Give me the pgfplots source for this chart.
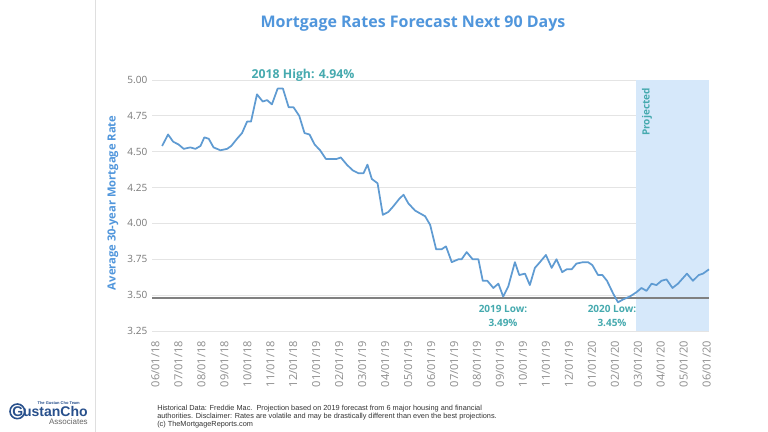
\documentclass[border=0pt]{standalone}
\usepackage{pgfplots}
\pgfplotsset{compat=1.18}
\usepackage{fontspec}
\setmainfont{Open Sans}
\newfontfamily\arialf{Liberation Sans}
\definecolor{titleblue}{RGB}{80,150,220}
\definecolor{lineblue}{RGB}{95,155,210}
\definecolor{shade}{RGB}{214,232,250}
\definecolor{teal}{RGB}{70,170,175}
\definecolor{tickgray}{RGB}{120,120,120}
\definecolor{xtickgray}{RGB}{140,140,140}
\definecolor{gridgray}{RGB}{228,228,228}
\definecolor{navy}{RGB}{40,80,140}
\begin{document}
\begin{tikzpicture}
\useasboundingbox (0,0) rectangle (576pt,324pt);
\fill[white] (0,0) rectangle (576pt,324pt);
\draw[gray!25, line width=0.6pt] (71.25pt,0) -- (71.25pt,324pt);
\begin{axis}[
  at={(114pt,75.75pt)}, anchor=south west,
  scale only axis, width=417.75pt, height=188.25pt,
  xmin=-0.15, xmax=24.1, ymin=3.25, ymax=5.0,
  axis line style={draw=none},
  major tick length=0pt,
  ytick={3.25,3.5,3.75,4,4.25,4.5,4.75,5},
  /pgf/number format/fixed, /pgf/number format/fixed zerofill, /pgf/number format/precision=2,
  /pgf/number format/assume math mode=true,
  yticklabel style={font=\fontsize{7.5}{9}\selectfont, text=tickgray},
  ymajorgrids, grid style={gridgray, line width=0.6pt},
  xtick={0,1,...,24},
  xticklabels={06/01/18,07/01/18,08/01/18,09/01/18,10/01/18,11/01/18,12/01/18,01/01/19,02/01/19,03/01/19,04/01/19,05/01/19,06/01/19,07/01/19,08/01/19,09/01/19,10/01/19,11/01/19,12/01/19,01/01/20,02/01/20,03/01/20,04/01/20,05/01/20,06/01/20},
  xticklabel shift=4pt,
  xticklabel style={rotate=90, anchor=east, font=\fontsize{8.3}{9}\selectfont, text=xtickgray},
  ylabel={\bfseries Average 30-year Mortgage Rate},
  ylabel style={font=\fontsize{8.4}{10}\selectfont, text=titleblue, xshift=2pt},
  clip=false,
]
\addplot[draw=none, fill=shade] coordinates {(20.9,3.25) (24.1,3.25) (24.1,5.0) (20.9,5.0)} -- cycle;
\addplot[draw=black!50, line width=1pt] coordinates {(-0.15,3.48) (24.1,3.48)};
\addplot[lineblue, line width=1.3pt, line join=round] coordinates {
(0.29,4.54) (0.55,4.62) (0.77,4.57) (1.01,4.55) (1.23,4.52) (1.52,4.53) (1.74,4.52) (1.96,4.54)
(2.13,4.60) (2.32,4.59) (2.53,4.53) (2.83,4.51) (3.12,4.52) (3.30,4.54) (3.55,4.59) (3.77,4.63)
(3.99,4.71) (4.16,4.71) (4.42,4.90) (4.67,4.85) (4.86,4.86) (5.07,4.83) (5.32,4.94) (5.55,4.94)
(5.80,4.81) (6.01,4.81) (6.26,4.75) (6.49,4.63) (6.71,4.62) (6.93,4.55) (7.17,4.51) (7.42,4.45)
(7.90,4.45) (8.07,4.46) (8.33,4.41) (8.59,4.37) (8.84,4.35) (9.06,4.35) (9.23,4.41) (9.42,4.31)
(9.67,4.28) (9.90,4.06) (10.14,4.08) (10.36,4.12) (10.61,4.17) (10.80,4.20) (11.01,4.14) (11.30,4.09)
(11.52,4.07) (11.74,4.05) (11.96,3.99) (12.22,3.82) (12.46,3.82) (12.65,3.84) (12.90,3.73) (13.19,3.75)
(13.33,3.75) (13.55,3.80) (13.81,3.75) (14.06,3.75) (14.25,3.60) (14.45,3.60) (14.71,3.55) (14.93,3.58)
(15.14,3.49) (15.36,3.56) (15.65,3.73) (15.84,3.64) (16.09,3.65) (16.30,3.57) (16.52,3.69) (16.74,3.73)
(17.00,3.78) (17.25,3.69) (17.46,3.75) (17.71,3.66) (17.90,3.68) (18.12,3.68) (18.33,3.72) (18.62,3.73)
(18.83,3.73) (19.02,3.71) (19.27,3.64) (19.46,3.64) (19.66,3.60) (19.93,3.51) (20.14,3.45) (20.36,3.47)
(20.65,3.49) (20.94,3.52) (21.16,3.55) (21.38,3.53) (21.60,3.58) (21.81,3.57) (22.03,3.60) (22.25,3.61)
(22.51,3.55) (22.75,3.58) (23.14,3.65) (23.40,3.60) (23.65,3.64) (23.84,3.65) (24.10,3.68)};
\end{axis}
% annotations
\node[font=\bfseries\fontsize{12}{14}\selectfont, text=titleblue] at (309.75pt,306pt) {Mortgage Rates Forecast Next 90 Days};
\node[font=\bfseries\fontsize{9.2}{10}\selectfont, text=teal] at (227.25pt,267.75pt) {2018 High: 4.94\%};
\node[font=\bfseries\fontsize{7.5}{9}\selectfont, text=teal, rotate=90] at (485.25pt,240pt) {Projected};
\node[font=\bfseries\fontsize{7.5}{9}\selectfont, text=teal, align=center] at (377.25pt,87pt) {2019 Low:\\[1pt]3.49\%};
\node[font=\bfseries\fontsize{7.5}{9}\selectfont, text=teal, align=center] at (459pt,87pt) {2020 Low:\\[1pt]3.45\%};
\node[font=\arialf\fontsize{5.5}{6}\selectfont, text=black!80, anchor=north west, align=left, inner sep=0pt] at (117.75pt,20.5pt)
 {Historical Data: Freddie Mac.\ \ Projection based on 2019 forecast from 6 major housing and financial\\
  authorities. Disclaimer: Rates are volatile and may be drastically different than even the best projections.\\
  (c) TheMortgageReports.com};
% logo
\draw[navy, line width=1.2pt] (13pt,15.5pt) circle (5.5pt);
\node[font=\arialf\bfseries\fontsize{3}{3}\selectfont, text=navy, anchor=south west, inner sep=0pt] at (28pt,20.5pt) {The Gustan Cho Team};
\node[font=\arialf\bfseries\fontsize{10.5}{11}\selectfont, text=navy, anchor=south west, inner sep=0pt] at (9pt,11pt) {GustanCho};
\node[font=\arialf\fontsize{6}{7}\selectfont, text=black!60, anchor=south east, inner sep=0pt] at (66pt,5pt) {Associates};
\end{tikzpicture}
\end{document}
